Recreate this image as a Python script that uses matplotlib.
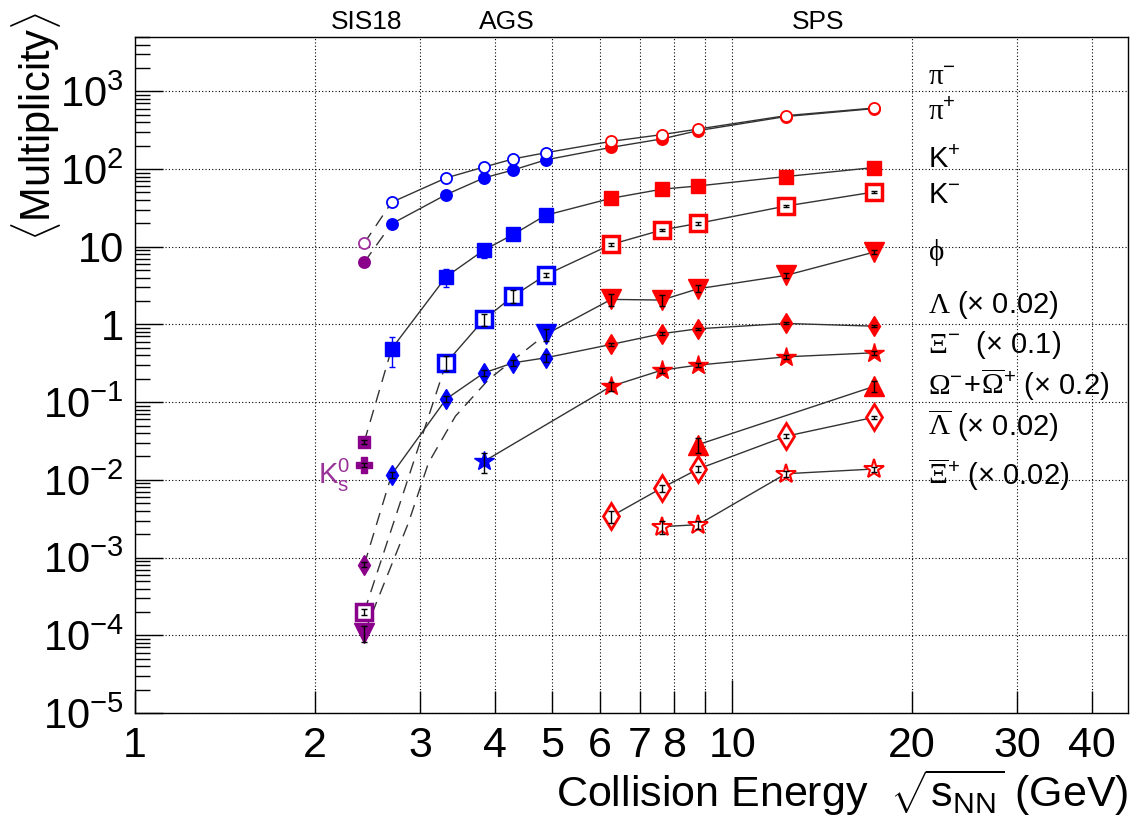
import matplotlib
matplotlib.use('Agg')
import matplotlib.pyplot as plt
from matplotlib.ticker import FixedLocator, FixedFormatter, LogLocator, NullFormatter

plt.rcParams['font.family'] = ['Liberation Sans', 'DejaVu Sans']
plt.rcParams['mathtext.fontset'] = 'custom'
plt.rcParams['mathtext.rm'] = 'Liberation Sans'
plt.rcParams['mathtext.it'] = 'Liberation Sans:italic'
plt.rcParams['mathtext.bf'] = 'Liberation Sans:bold'
plt.rcParams['mathtext.sf'] = 'Liberation Serif'  # greek letters, serif like ROOT's symbol font

# collision energies (GeV)
e_sis = [2.42]
e_ags = [2.69, 3.32, 3.84, 4.3, 4.87]
e_sps = [6.27, 7.62, 8.77, 12.3, 17.3]

# pions (open / filled circles)
pim_sis = [11.1]
pim_ags = [37.3, 76.9, 106, 135, 162]
pim_sps = [227, 277, 327, 486, 610]
pip_sis = [6.3]
pip_ags = [19.7, 46.9, 76.9, 97.3, 131]
pip_sps = [190, 244, 312, 474, 600]

# K+
kp_sis = [0.0308]
kp_sis_err = [0.002]
kp_ags = [0.486, 4.12, 9.06, 14.4, 25.4]
kp_ags_err = [0.2, 1.05, 1.8, 0.5, 0.6]
kp_sps = [42, 55, 60.6, 80, 104.6]

# K-
km_sis = [2.0e-4]
km_sis_err = [0.2e-4]
e_km_ags = [3.32, 3.84, 4.3, 4.87]
km_ags = [0.321, 1.16, 2.32, 4.32]
km_ags_err = [0.07, 0.2, 0.45, 0.3]
km_sps = [10.7, 16.4, 20.0, 33.4, 50.7]
km_sps_err = [0.4, 0.6, 0.7, 1.0, 1.5]

# phi
phi_sis = [1.07e-4]
phi_sis_err = [0.25e-4]
e_phi_ags = [4.87]
phi_ags = [0.743]
phi_ags_err = [0.13]
phi_sps = [2.1, 2.06, 2.88, 4.28, 8.55]
phi_sps_err = [0.35, 0.35, 0.3, 0.35, 0.5]
# dashed curve from SIS18 to AGS for phi
phi_curve_e = [2.42, 2.87, 3.1, 3.44, 3.91, 4.87]
phi_curve_v = [1.07e-4, 2.8e-3, 0.0165, 0.066, 0.196, 0.743]

# Lambda (x 0.02)
lam_sis = [8.07e-4]
lam_sis_err = [0.6e-4]
lam_ags = [0.0117, 0.110, 0.238, 0.321, 0.372]
lam_ags_err = [0.001, 0.01, 0.02, 0.03, 0.04]
lam_sps = [0.553, 0.76, 0.88, 1.03, 0.95]
lam_sps_err = [0.02, 0.03, 0.03, 0.03, 0.03]

# Xi- (x 0.1)
e_xi_ags = [3.84]
xi_ags = [0.0173]
xi_ags_err = [0.005]
xi_sps = [0.160, 0.258, 0.30, 0.383, 0.432]
xi_sps_err = [0.02, 0.02, 0.02, 0.025, 0.03]

# Omega- + anti-Omega+ (x 0.2)
e_om = [8.77, 17.3]
om_sps = [0.0284, 0.16]
om_sps_err = [0.006, 0.025]

# anti-Lambda (x 0.02)
alam_sps = [0.00339, 0.00786, 0.0138, 0.0364, 0.064]
alam_sps_err = [0.0006, 0.0008, 0.0012, 0.002, 0.003]

# anti-Xi+ (x 0.02)
e_axi = [7.62, 8.77, 12.3, 17.3]
axi_sps = [0.0025, 0.00265, 0.012, 0.0138]
axi_sps_err = [0.0005, 0.0003, 0.001, 0.001]

# K0s at SIS18
k0s_sis = [0.0157]
k0s_sis_err = [0.001]

# axis ticks
y_major = [1e-5, 1e-4, 1e-3, 1e-2, 1e-1, 1, 10, 100, 1000]
y_labels = [r'$10^{-5}$', r'$10^{-4}$', r'$10^{-3}$', r'$10^{-2}$', r'$10^{-1}$',
            '1', '10', r'$10^{2}$', r'$10^{3}$']
x_major = [1, 2, 3, 4, 5, 6, 7, 8, 9, 20, 30, 40]
x_labels = ['1', '2', '3', '4', '5', '6', '7', '8', '', '20', '30', '40']

PUR = '#8b008b'
BLU = '#0000ff'
RED = '#ff0000'

fig = plt.figure(figsize=(11.32, 8.30), dpi=100)
ax = fig.add_axes([135/1132, 117/830, 993/1132, 676/830])
ax.set_xscale('log')
ax.set_yscale('log')
ax.set_xlim(1, 46)
ax.set_ylim(1e-5, 5e3)


def link(E, v, dashed=False):
    ax.plot(E, v, color='#333333', lw=1, ls=(0, (9, 6)) if dashed else '-', zorder=2)


def pts(E, v, err, col, mk, ms, fill=True, mew=1.0, ecol='k'):
    mfc = col if fill else 'white'
    ax.plot(E, v, ls='none', marker=mk, ms=ms, mfc=mfc, mec=col, mew=mew, zorder=4)
    if err is not None:
        ax.errorbar(E, v, yerr=err, fmt='none', ecolor=ecol, elinewidth=1,
                    capsize=2.2, capthick=1, zorder=5)


# pions: filled first, open ones on top
for sis, ags, sps, fill in [(pip_sis, pip_ags, pip_sps, True), (pim_sis, pim_ags, pim_sps, False)]:
    link([e_sis[0], e_ags[0]], [sis[0], ags[0]], dashed=True)
    link(e_ags + e_sps, ags + sps)
    pts(e_sis, sis, None, PUR if fill else '#a030a0', 'o', 8, fill, 1.3)
    pts(e_ags, ags, None, BLU, 'o', 8, fill, 1.3)
    pts(e_sps, sps, None, RED, 'o', 8, fill, 1.3)

# K+
link([e_sis[0], e_ags[0]], [kp_sis[0], kp_ags[0]], dashed=True)
link(e_ags + e_sps, kp_ags + kp_sps)
pts(e_sis, kp_sis, kp_sis_err, PUR, 's', 9)
pts(e_ags, kp_ags, kp_ags_err, BLU, 's', 10, ecol=BLU)
pts(e_sps, kp_sps, None, RED, 's', 10)

# K-
link([e_sis[0], e_km_ags[0]], [km_sis[0], km_ags[0]], dashed=True)
link(e_km_ags + e_sps, km_ags + km_sps)
pts(e_sis, km_sis, km_sis_err, PUR, 's', 11, False, 2.5)
pts(e_km_ags, km_ags, km_ags_err, BLU, 's', 11, False, 2.5)
pts(e_sps, km_sps, km_sps_err, RED, 's', 11, False, 2.5)

# phi
link(phi_curve_e, phi_curve_v, dashed=True)
link(e_phi_ags + e_sps, phi_ags + phi_sps)
pts(e_sis, phi_sis, phi_sis_err, PUR, 'v', 14)
pts(e_phi_ags, phi_ags, phi_ags_err, BLU, 'v', 14)
pts(e_sps, phi_sps, phi_sps_err, RED, 'v', 14)

# Lambda
link([e_sis[0], e_ags[0]], [lam_sis[0], lam_ags[0]], dashed=True)
link(e_ags + e_sps, lam_ags + lam_sps)
pts(e_sis, lam_sis, lam_sis_err, PUR, 'd', 10)
pts(e_ags, lam_ags, lam_ags_err, BLU, 'd', 10)
pts(e_sps, lam_sps, lam_sps_err, RED, 'd', 10)

# Xi-
link(e_xi_ags + e_sps, xi_ags + xi_sps)
pts(e_xi_ags, xi_ags, xi_ags_err, BLU, '*', 15)
pts(e_sps, xi_sps, xi_sps_err, RED, '*', 15)

# Omega
link(e_om, om_sps)
pts(e_om, om_sps, om_sps_err, RED, '^', 14)

# anti-Lambda
link(e_sps, alam_sps)
pts(e_sps, alam_sps, alam_sps_err, RED, 'd', 13, False, 2)

# anti-Xi
link(e_axi, axi_sps)
pts(e_axi, axi_sps, axi_sps_err, RED, '*', 15, False, 1.5)

# K0s
pts(e_sis, k0s_sis, k0s_sis_err, PUR, 'P', 11)

# axes / ticks
ax.xaxis.set_major_locator(FixedLocator(x_major))
ax.xaxis.set_major_formatter(FixedFormatter(x_labels))
ax.xaxis.set_minor_locator(FixedLocator([10]))
ax.xaxis.set_minor_formatter(FixedFormatter(['10']))
ax.yaxis.set_major_locator(FixedLocator(y_major))
ax.yaxis.set_major_formatter(FixedFormatter(y_labels))
ax.yaxis.set_minor_locator(LogLocator(base=10, subs=range(2, 10), numticks=30))
ax.yaxis.set_minor_formatter(NullFormatter())
ax.tick_params(axis='both', which='both', direction='in', top=False, right=False, width=1)
ax.tick_params(axis='y', which='major', length=20, pad=8, labelsize=30)
ax.tick_params(axis='y', which='minor', length=11)
ax.tick_params(axis='x', which='major', length=16, pad=9, labelsize=31)
ax.tick_params(axis='x', which='minor', length=24, pad=9, labelsize=31)
ax.xaxis.grid(True, which='both', ls=(0, (1, 2)), color='k', lw=0.8)
ax.yaxis.grid(True, which='major', ls=(0, (1, 2)), color='k', lw=0.8)
ax.set_axisbelow(True)
for s in ax.spines.values():
    s.set_linewidth(1)

# axis titles
fig.text(1128/1132, 1 - 807/830, r'Collision Energy  $\sqrt{\mathrm{s}_{\mathrm{NN}}}$ (GeV)',
         ha='right', va='baseline', fontsize=31)
fig.text(36/1132, 1 - 12/830, r'$\langle$Multiplicity$\rangle$', rotation=90,
         ha='center', va='top', fontsize=30)

# accelerator labels
fig.text(367/1132, 1 - 29/830, 'SIS18', ha='center', va='baseline', fontsize=19)
fig.text(507/1132, 1 - 29/830, 'AGS', ha='center', va='baseline', fontsize=19)
fig.text(818/1132, 1 - 29/830, 'SPS', ha='center', va='baseline', fontsize=19)

# K0s label
fig.text(318/1132, 1 - 484/830, r'$\mathrm{K}^{0}_{\mathrm{s}}$', color='#993399',
         ha='left', va='baseline', fontsize=21)

# species labels on the right
labels = [r'$\mathsf{\pi}^{-}$', r'$\mathsf{\pi}^{+}$', r'$\mathrm{K}^{+}$', r'$\mathrm{K}^{-}$',
          r'$\mathsf{\phi}$', r'$\mathsf{\Lambda}\ (\times\ 0.02)$',
          r'$\mathsf{\Xi}^{-}\ \ (\times\ 0.1)$',
          r'$\mathsf{\Omega}^{-}\!+\!\overline{\mathsf{\Omega}}^{+}\ (\times\ 0.2)$',
          r'$\overline{\mathsf{\Lambda}}\ (\times\ 0.02)$',
          r'$\overline{\mathsf{\Xi}}^{+}\ (\times\ 0.02)$']
label_y = [85, 120, 168, 203, 260, 313, 353, 395, 436, 485]
for lab, yy in zip(labels, label_y):
    fig.text(928/1132, 1 - yy/830, lab, ha='left', va='baseline', fontsize=21)

fig.savefig('out.png', dpi=100)
